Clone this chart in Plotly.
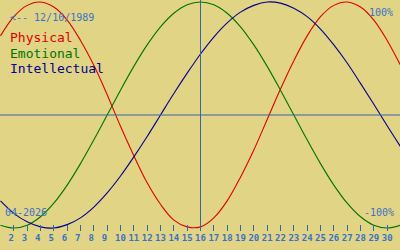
import plotly.graph_objects as go

# ---- data ----
days = list(range(1, 32))
physical = [0.70, 0.87, 0.97, 1.00, 0.955, 0.84, 0.66, 0.44, 0.18, -0.10,
            -0.36, -0.60, -0.79, -0.93, -0.99, -0.99, -0.91, -0.76, -0.55, -0.31,
            -0.04, 0.23, 0.48, 0.70, 0.87, 0.97, 1.00, 0.955, 0.84, 0.66, 0.44]
emotional = [-0.975, -1.00, -0.975, -0.90, -0.78, -0.62, -0.43, -0.22, 0.00, 0.22,
             0.43, 0.62, 0.78, 0.90, 0.975, 1.00, 0.975, 0.90, 0.78, 0.62,
             0.43, 0.22, 0.00, -0.22, -0.43, -0.62, -0.78, -0.90, -0.975, -1.00, -0.975]
intellectual = [-0.76, -0.87, -0.945, -0.99, -1.00, -0.97, -0.91, -0.815, -0.69, -0.54,
                -0.37, -0.19, 0.00, 0.19, 0.37, 0.54, 0.69, 0.815, 0.91, 0.97,
                1.00, 0.99, 0.945, 0.87, 0.76, 0.62, 0.46, 0.28, 0.095, -0.095, -0.28]
tick_days = list(range(2, 31))
tick_labels = [(str(d) + "\u00a0") if d < 10 else str(d) for d in tick_days]
today = 16
birth_label = "<-- 12/10/1989"
month_label = "04-2026"
series_names = ["Physical", "Emotional", "Intellectual"]

# ---- style ----
W, H = 400, 250
PLOT_H = 231
BG = "#E1D485"
TXT = "#3A72C8"
AXL = "#3564AE"
MONO = "DejaVu Sans Mono"
colors = ["#DD0000", "#007400", "#000090"]
XSHIFT = 0.5 / (W / 30.0)       # half-pixel shift so the 1px lines render crisp
YSPAN = 1.022
YSHIFT = -0.5 / (PLOT_H / (2 * YSPAN))

fig = go.Figure()
for name, vals, col in zip(series_names, [physical, emotional, intellectual], colors):
    fig.add_trace(go.Scatter(x=days, y=vals, mode="lines", name=name,
                             line=dict(color=col, width=1.1, shape="spline", smoothing=1.0),
                             showlegend=False, hoverinfo="skip"))

fig.add_shape(type="line", xref="x", yref="paper", x0=today, x1=today, y0=0, y1=1,
              line=dict(color=AXL, width=1), layer="above")
fig.add_shape(type="line", xref="paper", yref="y", x0=0, x1=1, y0=0, y1=0,
              line=dict(color=AXL, width=1), layer="above")

def px(x):
    return x / W

def py(y):
    return 1 - y / PLOT_H

def note(text, x, y, size, color, anchor="left"):
    fig.add_annotation(text=text, xref="paper", yref="paper", x=px(x), y=py(y),
                       xanchor=anchor, yanchor="middle", showarrow=False,
                       borderpad=0, font=dict(family=MONO, size=size, color=color))

note(birth_label, 9, 17, 10, TXT)
for i, (name, col) in enumerate(zip(series_names, colors)):
    note(name, 9, 38 + 15 * i, 13, col)
note("100%", 394, 12, 10, TXT, "right")
note("-100%", 395, 212, 10, TXT, "right")
note(month_label, 4, 212, 10, TXT)

fig.update_layout(
    width=W, height=H,
    margin=dict(l=0, r=0, t=0, b=H - PLOT_H, pad=0),
    paper_bgcolor=BG, plot_bgcolor=BG,
    xaxis=dict(range=[1 - XSHIFT, 31 - XSHIFT], showgrid=False, zeroline=False, showline=False,
               tickmode="array", tickvals=tick_days, ticktext=tick_labels,
               ticks="inside", ticklen=6, tickwidth=1, tickcolor=AXL,
               tickfont=dict(family=MONO, size=9, color=TXT, weight="bold"), fixedrange=True),
    yaxis=dict(range=[-YSPAN + YSHIFT, YSPAN + YSHIFT], showgrid=False, showticklabels=False,
               zeroline=False, showline=False, fixedrange=True),
    showlegend=False,
)

fig.write_html("out.html")
